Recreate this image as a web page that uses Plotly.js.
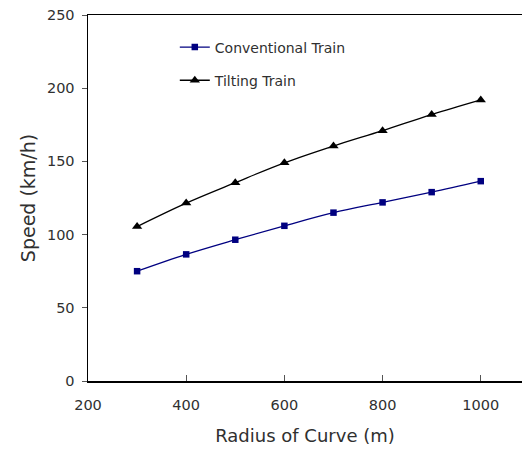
<!DOCTYPE html>
<html><head><meta charset="utf-8">
<script src="https://cdn.plot.ly/plotly-3.0.1.min.js"></script>
<style>html,body{margin:0;padding:0;background:#fff;}#chart{width:522px;height:453px;}</style>
</head><body><div id="chart"></div>
<script>
const radius = [300, 400, 500, 600, 700, 800, 900, 1000];
const conventional = [75, 86.5, 96.5, 106, 115, 122, 129, 136.5];
const tilting = [105.5, 121.5, 135.5, 149, 160.5, 171, 182, 192];
const seriesNames = ["Conventional Train", "Tilting Train"];
const xTicks = [200, 400, 600, 800, 1000];
const yTicks = [0, 50, 100, 150, 200, 250];

const fontFam = '"DejaVu Sans", sans-serif';
const traces = [
  {x: radius, y: conventional, name: seriesNames[0], mode: 'lines+markers', legendgroup: 'a',
   line: {color: '#000080', width: 1.3, shape: 'spline'},
   marker: {symbol: 'square', size: 6.5, color: '#000080'}},
  {x: radius, y: tilting, name: seriesNames[1], mode: 'lines+markers', legendgroup: 'b',
   line: {color: '#000000', width: 1.3, shape: 'spline'},
   marker: {symbol: 'triangle-up', size: 9, color: '#000000'}}
];
const layout = {
  width: 522, height: 453,
  margin: {l: 88, r: 0, t: 15, b: 72},
  paper_bgcolor: '#fff', plot_bgcolor: '#fff',
  font: {family: fontFam, color: '#303030', size: 14.5},
  showlegend: true,
  legend: {x: 0.2, y: 0.955, xanchor: 'left', yanchor: 'top', bgcolor: 'rgba(0,0,0,0)',
           font: {size: 14, color: '#303030'}, traceorder: 'grouped', tracegroupgap: 12, itemwidth: 30},
  xaxis: {range: [200, 1084], tickvals: xTicks, ticks: 'inside', ticklen: 6, tickcolor: '#555',
          showgrid: false, zeroline: false, showline: true, linecolor: '#000', linewidth: 1.5,
          mirror: true, ticklabelstandoff: 10,
          title: {text: 'Radius of Curve (m)', font: {size: 18, color: '#303030'}, standoff: 17}},
  yaxis: {range: [0, 250], tickvals: yTicks, ticks: 'outside', ticklen: 5, tickcolor: '#555',
          showgrid: false, zeroline: false, showline: true, linecolor: '#000', linewidth: 1.5,
          ticklabelstandoff: 4,
          title: {text: 'Speed (km/h)', font: {size: 19, color: '#303030'}, standoff: 6}}
};
Plotly.newPlot('chart', traces, layout, {staticPlot: true, displayModeBar: false});
</script></body></html>
